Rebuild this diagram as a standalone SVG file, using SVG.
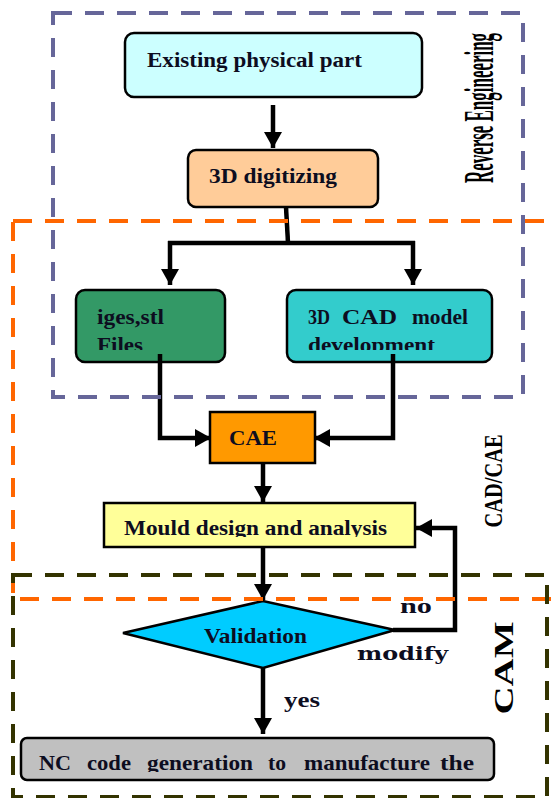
<svg xmlns="http://www.w3.org/2000/svg" width="557" height="798" viewBox="0 0 557 798">
  <style>
    .box { stroke: #000; stroke-width: 2.5; }
    .lbl { font-family: "Liberation Serif", "DejaVu Serif", serif; font-weight: bold; font-size: 22px; fill: #0d0d1f; }
    .wire { fill: none; stroke: #000; stroke-width: 4.5; stroke-linejoin: miter; }
    .arrow { marker-end: url(#ah); }
    .region { fill: none; stroke-width: 4; stroke-dasharray: 19 13; }
    .side { font-family: "Liberation Serif", "DejaVu Serif", serif; font-weight: bold; fill: #000; text-anchor: middle; }
  </style>
  <defs>
    <marker id="ah" markerUnits="userSpaceOnUse" viewBox="0 0 16 18" markerWidth="16" markerHeight="18" refX="16" refY="9" orient="auto">
      <path d="M0,0 L16,9 L0,18 z" fill="#000"/>
    </marker>
    <clipPath id="clip-iges"><rect x="76" y="290" width="149" height="60"/></clipPath>
    <clipPath id="clip-cad"><rect x="287" y="290" width="205" height="60"/></clipPath>
    <clipPath id="clip-mould"><rect x="104" y="503" width="311" height="34"/></clipPath>
    <clipPath id="clip-nc"><rect x="21" y="738" width="473" height="34"/></clipPath>
  </defs>

  <rect width="557" height="798" fill="#fff"/>

  <!-- process steps -->
  <g id="existing-part">
    <rect class="box" x="125" y="33" width="297" height="64" rx="9" fill="#ccffff"/>
    <text class="lbl" x="147" y="67" textLength="215" lengthAdjust="spacingAndGlyphs">Existing physical part</text>
  </g>
  <g id="digitizing">
    <rect class="box" x="188" y="150" width="190" height="57" rx="8" fill="#ffcc99"/>
    <text class="lbl" x="209" y="183" textLength="128" lengthAdjust="spacingAndGlyphs">3D digitizing</text>
  </g>
  <g id="iges-stl-files">
    <rect class="box" x="76" y="290" width="149" height="72" rx="9" fill="#339966"/>
    <g clip-path="url(#clip-iges)">
      <text class="lbl" x="97" y="324" textLength="67" lengthAdjust="spacingAndGlyphs">iges,stl</text>
      <text class="lbl" x="97" y="352" textLength="46" lengthAdjust="spacingAndGlyphs">Files</text>
    </g>
  </g>
  <g id="cad-model">
    <rect class="box" x="287" y="290" width="205" height="72" rx="9" fill="#33cccc"/>
    <g clip-path="url(#clip-cad)">
      <text class="lbl" x="308" y="324" textLength="22" lengthAdjust="spacingAndGlyphs">3D</text>
      <text class="lbl" x="342" y="324" textLength="55" lengthAdjust="spacingAndGlyphs">CAD</text>
      <text class="lbl" x="412" y="324" textLength="56" lengthAdjust="spacingAndGlyphs">model</text>
      <text class="lbl" x="308" y="352" textLength="127" lengthAdjust="spacingAndGlyphs">development</text>
    </g>
  </g>
  <g id="cae">
    <rect class="box" x="210" y="412" width="105" height="51" fill="#ff9900"/>
    <text class="lbl" x="229" y="445" textLength="48" lengthAdjust="spacingAndGlyphs">CAE</text>
  </g>
  <g id="mould-design">
    <rect class="box" x="104" y="503" width="311" height="44" fill="#ffff99"/>
    <g clip-path="url(#clip-mould)">
      <text class="lbl" x="124" y="535" textLength="263" lengthAdjust="spacingAndGlyphs">Mould design and analysis</text>
    </g>
  </g>
  <g id="validation">
    <polygon class="box" points="123,633 263,601 395,630 263,668" fill="#00ccff"/>
    <text class="lbl" x="204" y="643" textLength="103" lengthAdjust="spacingAndGlyphs">Validation</text>
  </g>
  <g id="nc-code">
    <rect class="box" x="21" y="738" width="473" height="42" rx="6" fill="#c0c0c0"/>
    <g clip-path="url(#clip-nc)">
      <text class="lbl" x="39" y="770" textLength="32" lengthAdjust="spacingAndGlyphs">NC</text>
      <text class="lbl" x="87" y="770" textLength="44" lengthAdjust="spacingAndGlyphs">code</text>
      <text class="lbl" x="147" y="770" textLength="106" lengthAdjust="spacingAndGlyphs">generation</text>
      <text class="lbl" x="268" y="770" textLength="18" lengthAdjust="spacingAndGlyphs">to</text>
      <text class="lbl" x="304" y="770" textLength="126" lengthAdjust="spacingAndGlyphs">manufacture</text>
      <text class="lbl" x="440" y="770" textLength="34" lengthAdjust="spacingAndGlyphs">the</text>
    </g>
  </g>

  <!-- connectors -->
  <g id="connectors">
    <path class="wire arrow" d="M273,105 V148"/>
    <path class="wire" d="M286,207 L288,243"/>
    <path class="wire" stroke-width="5.5" d="M168,243 H415"/>
    <path class="wire arrow" d="M170,241 V285"/>
    <path class="wire arrow" d="M413,241 V285"/>
    <path class="wire arrow" d="M160,354 V438 H211"/>
    <path class="wire arrow" d="M393,354 V438 H314"/>
    <path class="wire arrow" d="M263,464 V502"/>
    <path class="wire arrow" d="M263,548 V600"/>
    <path class="wire arrow" d="M263,668 V734"/>
    <path class="wire arrow" stroke-width="5" d="M393,630 H455 V528 H416"/>
    <text class="lbl" x="400" y="613" font-size="27" textLength="32" lengthAdjust="spacingAndGlyphs">no</text>
    <text x="357" y="660" font-family="'DejaVu Serif', 'Liberation Serif', serif" font-weight="bold" font-size="18" fill="#0d0d1f" textLength="91" lengthAdjust="spacingAndGlyphs">modify</text>
    <text class="lbl" x="284" y="707" font-size="27" textLength="36" lengthAdjust="spacingAndGlyphs">yes</text>
  </g>

  <!-- stage regions -->
  <g id="region-reverse-engineering">
    <rect class="region" x="53" y="13" width="470" height="384" stroke="#666699"/>
    <text class="side" transform="translate(493,108) rotate(-90) scale(0.565,1.4)" font-size="30">Reverse Engineering</text>
  </g>
  <g id="region-cad-cae">
    <rect class="region" x="13" y="221" width="560" height="378" stroke="#ff6600"/>
    <text class="side" transform="translate(502,481) rotate(-90)" font-size="26" textLength="93" lengthAdjust="spacingAndGlyphs">CAD/CAE</text>
  </g>
  <g id="region-cam">
    <rect class="region" x="13" y="575" width="534" height="222" stroke="#333300" stroke-width="3.5"/>
    <text class="side" transform="translate(513,668) rotate(-90)" font-size="28" textLength="93" lengthAdjust="spacingAndGlyphs">CAM</text>
  </g>
</svg>
